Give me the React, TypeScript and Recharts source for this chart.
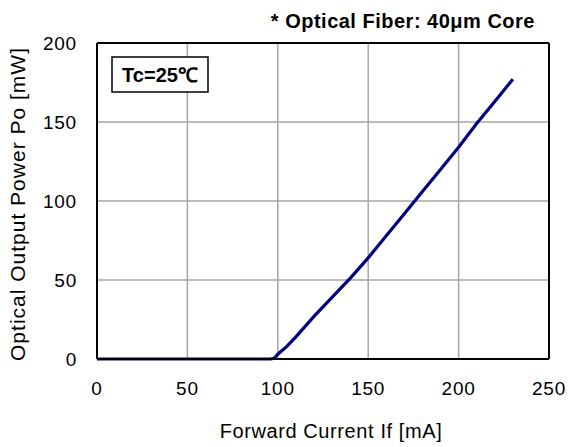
import React from "react";
import {
  LineChart,
  Line,
  XAxis,
  YAxis,
  CartesianGrid,
  ReferenceLine,
} from "recharts";

const currentMA = [0, 50, 96, 98, 100, 105, 110, 120, 130, 140, 150, 160, 170, 180, 190, 200, 210, 220, 230];
const powerMW = [0, 0, 0, 0.5, 3, 8, 14, 27, 39, 51, 64, 78, 92, 106, 120, 134, 149, 163, 177];
const xTicks = [0, 50, 100, 150, 200, 250];
const yTicks = [0, 50, 100, 150, 200];

const data = currentMA.map((c, i) => ({ x: c, y: powerMW[i] }));

const FONT = "'Liberation Sans', Arial, sans-serif";

export default function App() {
  return (
    <div style={{ position: "absolute", left: 0, top: 0, width: 570, height: 447, background: "#fff" }}>
      <LineChart
        width={570}
        height={447}
        data={data}
        margin={{ top: 43, right: 21, bottom: 0, left: 0 }}
      >
        <CartesianGrid stroke="#a6a6a6" strokeWidth={1.5} />
        <XAxis
          dataKey="x"
          type="number"
          domain={[0, 250]}
          ticks={xTicks}
          height={88}
          tickLine={false}
          tickSize={0}
          tickMargin={23}
          axisLine={{ stroke: "#000", strokeWidth: 2 }}
          tick={{ fill: "#000", fontSize: 19, fontFamily: FONT, letterSpacing: 0.8 }}
          allowDataOverflow
        />
        <YAxis
          type="number"
          domain={[0, 200]}
          ticks={yTicks}
          width={97}
          tickLine={false}
          tickSize={0}
          tickMargin={20}
          axisLine={{ stroke: "#000", strokeWidth: 2 }}
          tick={{ fill: "#000", fontSize: 19, fontFamily: FONT, letterSpacing: 0.8 }}
        />
        <ReferenceLine y={200} stroke="#000" strokeWidth={2} ifOverflow="visible" />
        <ReferenceLine x={250} stroke="#000" strokeWidth={2} ifOverflow="visible" />
        <Line
          type="linear"
          dataKey="y"
          stroke="#000080"
          strokeWidth={3.2}
          dot={false}
          isAnimationActive={false}
        />
      </LineChart>
      <svg
        width={570}
        height={447}
        style={{ position: "absolute", left: 0, top: 0, pointerEvents: "none" }}
      >
        <text
          x={535}
          y={28}
          textAnchor="end"
          fontFamily={FONT}
          fontWeight="bold"
          fontSize={20}
          letterSpacing={0.5}
          fill="#000"
        >
          * Optical Fiber: 40μm Core
        </text>
        <rect x={112} y={57} width={96} height={35} fill="#fff" stroke="#000" strokeWidth={1.5} />
        <text
          x={160}
          y={82}
          textAnchor="middle"
          fontFamily={FONT}
          fontWeight="bold"
          fontSize={20}
          fill="#000"
        >
          Tc=25℃
        </text>
        <text
          x={331}
          y={438}
          textAnchor="middle"
          fontFamily={FONT}
          fontSize={20}
          letterSpacing={0.6}
          fill="#000"
        >
          Forward Current If [mA]
        </text>
        <text
          x={25}
          y={204}
          transform="rotate(-90 25 204)"
          textAnchor="middle"
          fontFamily={FONT}
          fontSize={21}
          letterSpacing={1}
          fill="#000"
        >
          Optical Output Power Po [mW]
        </text>
      </svg>
    </div>
  );
}
